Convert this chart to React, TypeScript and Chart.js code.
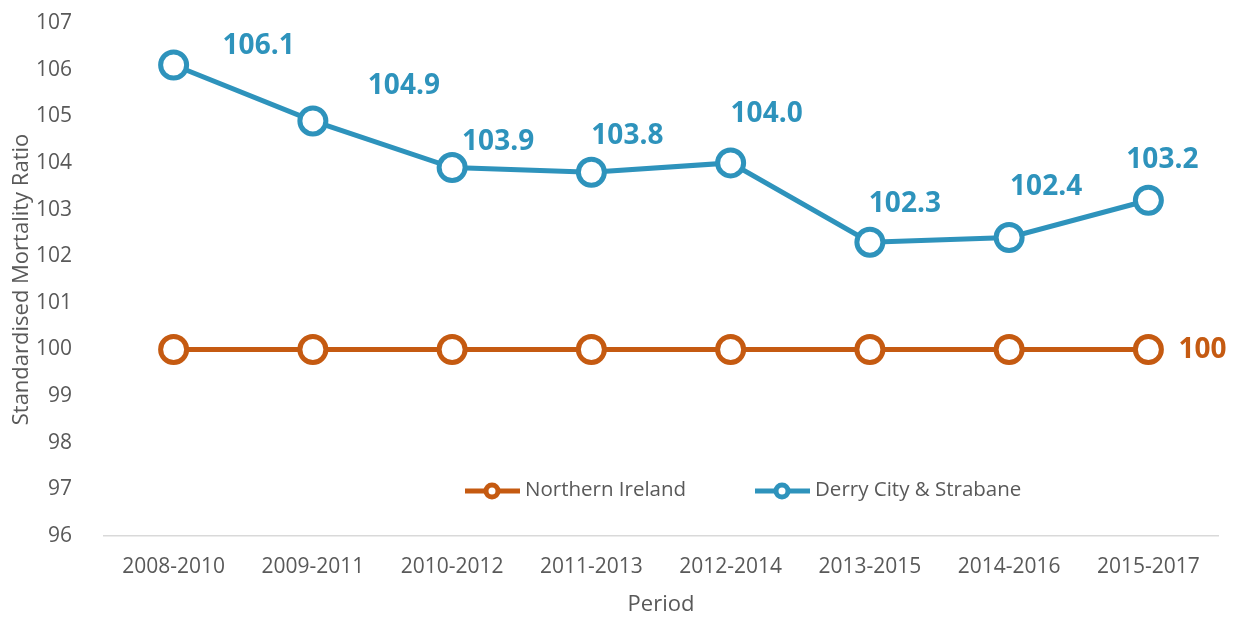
import { useEffect, useRef } from "react";
import { Chart, registerables } from "chart.js";

Chart.register(...registerables);

const periods = ["2008-2010", "2009-2011", "2010-2012", "2011-2013", "2012-2014", "2013-2015", "2014-2016", "2015-2017"];
const northernIreland = [100, 100, 100, 100, 100, 100, 100, 100];
const derryStrabane = [106.1, 104.9, 103.9, 103.8, 104.0, 102.3, 102.4, 103.2];
const yMin = 96;
const yMax = 107;
const yStep = 1;
const seriesNames = ["Northern Ireland", "Derry City & Strabane"];
// label placement offsets (style only)
const derryLabelOffsets = [[85, -19], [91, -35], [46, -26], [36, -36], [36, -49], [35, -38], [37, -50], [14, -40]];

const ORANGE = "#C55A11";
const BLUE = "#2E93BC";
const GREY = "#595959";
const FONT = "'Open Sans', sans-serif";

const labelPlugin = {
  id: "valueLabels",
  afterDatasetsDraw(chart: any) {
    const ctx = chart.ctx;
    ctx.save();
    ctx.font = `bold 28px ${FONT}`;
    ctx.textBaseline = "middle";
    const blueMeta = chart.getDatasetMeta(1);
    ctx.fillStyle = BLUE;
    ctx.textAlign = "center";
    blueMeta.data.forEach((pt: any, i: number) => {
      const off = derryLabelOffsets[i];
      ctx.fillText(derryStrabane[i].toFixed(1), pt.x + off[0], pt.y + off[1]);
    });
    const orangeMeta = chart.getDatasetMeta(0);
    const last = orangeMeta.data[orangeMeta.data.length - 1];
    ctx.fillStyle = ORANGE;
    ctx.textAlign = "left";
    ctx.fillText(String(northernIreland[northernIreland.length - 1]), last.x + 30, last.y + 1);
    ctx.restore();
  },
};

const legendPlugin = {
  id: "customLegend",
  afterDraw(chart: any) {
    const ctx = chart.ctx;
    const area = chart.chartArea;
    const y = area.bottom - 45;
    const items = [
      { label: seriesNames[0], color: ORANGE, x: area.left + 361 },
      { label: seriesNames[1], color: BLUE, x: area.left + 651 },
    ];
    ctx.save();
    ctx.font = `20.5px ${FONT}`;
    ctx.textBaseline = "middle";
    ctx.textAlign = "left";
    items.forEach((it) => {
      ctx.strokeStyle = it.color;
      ctx.lineWidth = 5;
      ctx.beginPath();
      ctx.moveTo(it.x, y);
      ctx.lineTo(it.x + 55, y);
      ctx.stroke();
      ctx.beginPath();
      ctx.arc(it.x + 27, y, 6, 0, Math.PI * 2);
      ctx.fillStyle = "#ffffff";
      ctx.fill();
      ctx.lineWidth = 5;
      ctx.stroke();
      ctx.fillStyle = GREY;
      ctx.fillText(it.label, it.x + 60, y - 1);
    });
    ctx.restore();
  },
};

export default function App() {
  const ref = useRef<HTMLCanvasElement | null>(null);
  useEffect(() => {
    if (!ref.current) return;
    const chart = new Chart(ref.current, {
      type: "line",
      data: {
        labels: periods,
        datasets: [
          {
            label: seriesNames[0],
            data: northernIreland,
            borderColor: ORANGE,
            backgroundColor: "#ffffff",
            borderWidth: 5,
            pointRadius: 13,
            pointBorderWidth: 5,
            pointBackgroundColor: "#ffffff",
            pointBorderColor: ORANGE,
            tension: 0,
          },
          {
            label: seriesNames[1],
            data: derryStrabane,
            borderColor: BLUE,
            backgroundColor: "#ffffff",
            borderWidth: 5,
            pointRadius: 13,
            pointBorderWidth: 5,
            pointBackgroundColor: "#ffffff",
            pointBorderColor: BLUE,
            tension: 0,
          },
        ],
      },
      options: {
        animation: false,
        responsive: true,
        maintainAspectRatio: false,
        events: [],
        layout: { padding: { top: 23, right: 23, left: 0, bottom: 0 } },
        plugins: {
          legend: { display: false },
          tooltip: { enabled: false },
        },
        scales: {
          x: {
            offset: true,
            grid: { display: false },
            border: { display: true, color: "#D9D9D9", width: 1.5 },
            ticks: { color: GREY, font: { family: FONT, size: 21 }, padding: 10 },
            title: { display: true, text: "Period", color: GREY, font: { family: FONT, size: 22 }, padding: { top: 0, bottom: 1 } },
            afterFit: (s: any) => { s.height = 83; },
          },
          y: {
            min: yMin,
            max: yMax,
            grid: { display: false },
            border: { display: false },
            ticks: { stepSize: yStep, color: GREY, font: { family: FONT, size: 21 }, padding: 24 },
            title: { display: true, text: "Standardised Mortality Ratio", color: GREY, font: { family: FONT, size: 22 }, padding: { top: 9, bottom: 0 } },
            afterFit: (s: any) => { s.width = 104; s.paddingTop = 0; s.paddingBottom = 0; },
          },
        },
      },
      plugins: [labelPlugin, legendPlugin],
    });
    return () => chart.destroy();
  }, []);
  return (
    <div style={{ position: "fixed", left: 0, top: 0, width: 1241, height: 619, background: "#fff" }}>
      <canvas ref={ref} />
    </div>
  );
}
